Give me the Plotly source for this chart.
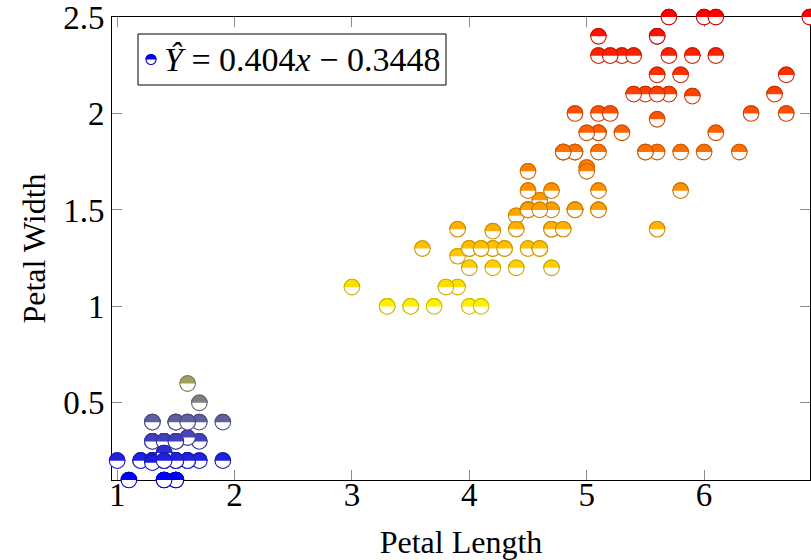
import plotly.graph_objects as go
from plotly.colors import sample_colorscale, unlabel_rgb

# ---------------- data ----------------
petal_length = [
    1.4, 1.4, 1.3, 1.5, 1.4, 1.7, 1.4, 1.5, 1.4, 1.5, 1.5, 1.6, 1.4, 1.1, 1.2,
    1.5, 1.3, 1.4, 1.7, 1.5, 1.7, 1.5, 1.0, 1.7, 1.9, 1.6, 1.6, 1.5, 1.4, 1.6,
    1.6, 1.5, 1.5, 1.4, 1.5, 1.2, 1.3, 1.4, 1.3, 1.5, 1.3, 1.3, 1.3, 1.6, 1.9,
    1.4, 1.6, 1.4, 1.5, 1.4, 1.3, 1.6,
    4.7, 4.5, 4.9, 4.0, 4.6, 4.5, 4.7, 3.3, 4.6, 3.9, 3.5, 4.2, 4.0, 4.7, 3.6,
    4.4, 4.5, 4.1, 4.5, 3.9, 4.8, 4.0, 4.9, 4.7, 4.3, 4.4, 4.8, 5.0, 4.5, 3.5,
    3.8, 3.7, 3.9, 5.1, 4.5, 4.5, 4.7, 4.6, 4.1, 4.0, 4.4, 4.6, 4.0, 3.3, 4.2,
    4.2, 4.2, 4.3, 3.0, 4.1,
    6.0, 5.1, 5.9, 5.6, 5.8, 6.6, 4.5, 6.3, 5.8, 6.1, 5.1, 5.3, 5.5, 5.0, 5.1,
    5.3, 5.5, 6.7, 6.9, 5.1, 5.7, 4.9, 6.7, 4.9, 5.7, 6.0, 4.8, 4.9, 5.6, 5.8,
    6.1, 6.4, 5.6, 5.1, 5.6, 6.1, 5.6, 5.5, 4.8, 5.4, 5.6, 5.1, 5.1, 5.9, 5.7,
    5.2, 5.0, 5.2, 5.4, 5.1, 5.6, 4.9,
]
petal_width = [
    0.2, 0.2, 0.2, 0.2, 0.2, 0.4, 0.3, 0.2, 0.2, 0.1, 0.2, 0.2, 0.1, 0.1, 0.2,
    0.4, 0.4, 0.3, 0.3, 0.3, 0.2, 0.4, 0.2, 0.5, 0.2, 0.2, 0.4, 0.2, 0.2, 0.2,
    0.2, 0.4, 0.1, 0.2, 0.2, 0.2, 0.2, 0.1, 0.2, 0.2, 0.3, 0.3, 0.19, 0.6, 0.4,
    0.3, 0.32, 0.24, 0.3, 0.2, 0.4, 0.4,
    1.4, 1.5, 1.5, 1.3, 1.55, 1.3, 1.6, 1.0, 1.3, 1.4, 1.0, 1.39, 1.0, 1.4, 1.3,
    1.47, 1.5, 1.0, 1.5, 1.1, 1.8, 1.3, 1.5, 1.2, 1.3, 1.4, 1.4, 1.72, 1.5, 1.0,
    1.1, 1.0, 1.26, 1.6, 1.5, 1.6, 1.5, 1.5, 1.3, 1.3, 1.2, 1.3, 1.2, 1.0, 1.3,
    1.2, 1.3, 1.3, 1.1, 1.3,
    2.5, 1.9, 2.09, 1.8, 2.2, 2.1, 1.7, 1.8, 1.8, 2.5, 2.0, 1.9, 2.1, 1.7, 2.4,
    2.3, 1.8, 2.2, 2.5, 1.5, 2.3, 2.0, 2.0, 1.8, 2.1, 1.8, 1.8, 1.8, 2.1, 1.6,
    1.9, 2.0, 2.2, 1.5, 1.4, 2.3, 2.4, 1.8, 1.8, 2.1, 2.4, 2.3, 1.9, 2.3, 2.5,
    2.3, 1.9, 2.0, 2.3, 1.8, 1.97, 1.5,
]

x_ticks = [1, 2, 3, 4, 5, 6]
y_ticks = [0.5, 1, 1.5, 2, 2.5]
y_tick_labels = ["0.5", "1", "1.5", "2", "2.5"]
x_title = "Petal Length"
y_title = "Petal Width"
legend_label = "<i>Ŷ</i> = 0.404<i>x</i> − 0.3448"

# ---------------- style / layout constants ----------------
W, H = 811, 560
FL, FR, FT, FB = 112, 810, 17, 480          # frame in pixels
XR = [0.956, 6.902]
YR = [0.1, 2.5003]
FONT = "Liberation Serif"
FS_TICK = 33
FS_TITLE = 32
FS_LEG = 34
HOT = [[0.0, "rgb(0,0,255)"], [1 / 3, "rgb(255,255,0)"],
       [2 / 3, "rgb(255,128,0)"], [1.0, "rgb(255,0,0)"]]
RAD = 7.8
LW = 1.1

# secondary (full-paper) axes that map data identically to the frame axes
sx = (FR - FL) / (XR[1] - XR[0])
sy = (FB - FT) / (YR[1] - YR[0])
X2R = [XR[0] - FL / sx, XR[1] + (W - FR) / sx]
Y2R = [YR[0] - (H - FB) / sy, YR[1] + FT / sy]


def circle_paths(r):
    k = 0.5523 * r
    top_arc = (f"M {-r},0 C {-r},{k} {-k},{r} 0,{r} "
               f"C {k},{r} {r},{k} {r},0")
    bot_arc = (f" C {r},{-k} {k},{-r} 0,{-r} "
               f"C {-k},{-r} {-r},{-k} {-r},0")
    return top_arc + bot_arc + " Z", top_arc + " Z", top_arc


cmin, cmax = min(petal_width), max(petal_width)
ts = [(v - cmin) / (cmax - cmin) for v in petal_width]
cols = [unlabel_rgb(c) for c in sample_colorscale(HOT, ts)]
fill_cols = [f"rgb({c[0]:.0f},{c[1]:.0f},{c[2]:.0f})" for c in cols]
line_cols = [f"rgb({0.8*c[0]:.0f},{0.8*c[1]:.0f},{0.8*c[2]:.0f})" for c in cols]

fig = go.Figure()
fig.add_trace(go.Scatter(
    x=petal_length, y=petal_width, mode="markers", xaxis="x", yaxis="y",
    cliponaxis=False, showlegend=False,
    marker=dict(size=11, color=petal_width, colorscale=HOT, cmin=cmin,
                cmax=cmax, line=dict(width=0)),
))
fig.add_trace(go.Scatter(
    x=[], y=[], mode="markers", xaxis="x2", yaxis="y2", showlegend=False,
))

full_p, half_p, arc_p = circle_paths(RAD)
shapes = []
for x, y, fc, lc in zip(petal_length, petal_width, fill_cols, line_cols):
    base = dict(type="path", xref="x2", yref="y2", xsizemode="pixel",
                ysizemode="pixel", xanchor=x, yanchor=y)
    shapes.append(dict(base, path=full_p, fillcolor="white",
                       line=dict(color=lc, width=LW)))
    shapes.append(dict(base, path=half_p, fillcolor=fc, line=dict(width=0)))
    shapes.append(dict(base, path=arc_p, fillcolor="rgba(0,0,0,0)",
                       line=dict(color=lc, width=LW)))

# legend box
LB = dict(x0=138, x1=446, y0=34, y1=85)
shapes.append(dict(type="rect", xref="paper", yref="paper",
                   x0=LB["x0"] / W, x1=LB["x1"] / W,
                   y0=1 - LB["y1"] / H, y1=1 - LB["y0"] / H,
                   line=dict(color="black", width=1), fillcolor="white"))
lf, lh, la = circle_paths(5)
lbase = dict(type="path", xref="paper", yref="paper", xsizemode="pixel",
             ysizemode="pixel", xanchor=151 / W, yanchor=1 - 59.5 / H)
shapes.append(dict(lbase, path=lf, fillcolor="white",
                   line=dict(color="rgb(0,0,204)", width=LW)))
shapes.append(dict(lbase, path=lh, fillcolor="rgb(0,0,255)", line=dict(width=0)))
shapes.append(dict(lbase, path=la, fillcolor="rgba(0,0,0,0)",
                   line=dict(color="rgb(0,0,204)", width=LW)))

axis_common = dict(showgrid=False, zeroline=False, ticks="inside", ticklen=10,
                   tickcolor="#8c8c8c", tickwidth=1, showline=True,
                   linecolor="black", linewidth=1, mirror="ticks",
                   tickfont=dict(family=FONT, size=FS_TICK, color="black"),
                   ticklabeloverflow="allow", automargin=False)

fig.update_layout(
    width=W, height=H, margin=dict(l=0, r=0, t=0, b=0),
    paper_bgcolor="white", plot_bgcolor="rgba(0,0,0,0)", showlegend=False,
    xaxis=dict(axis_common, domain=[FL / W, FR / W], range=XR,
               tickvals=x_ticks, ticktext=[str(v) for v in x_ticks],
               anchor="y", ticklabelstandoff=-15,
               title=dict(text=x_title,
                          font=dict(family=FONT, size=FS_TITLE, color="black"),
                          standoff=22)),
    yaxis=dict(axis_common, domain=[1 - FB / H, 1 - FT / H], range=YR,
               tickvals=y_ticks, ticktext=y_tick_labels, anchor="x",
               title=dict(text=y_title,
                          font=dict(family=FONT, size=FS_TITLE, color="black"),
                          standoff=7)),
    xaxis2=dict(domain=[0, 1], range=X2R, visible=False, anchor="y2"),
    yaxis2=dict(domain=[0, 1], range=Y2R, visible=False, anchor="x2"),
    shapes=shapes,
    annotations=[dict(text=legend_label, xref="paper", yref="paper",
                      x=162 / W, y=1 - 60 / H, xanchor="left", yanchor="middle",
                      showarrow=False,
                      font=dict(family=FONT, size=FS_LEG, color="black"))],
)

fig.write_html("out.html")
